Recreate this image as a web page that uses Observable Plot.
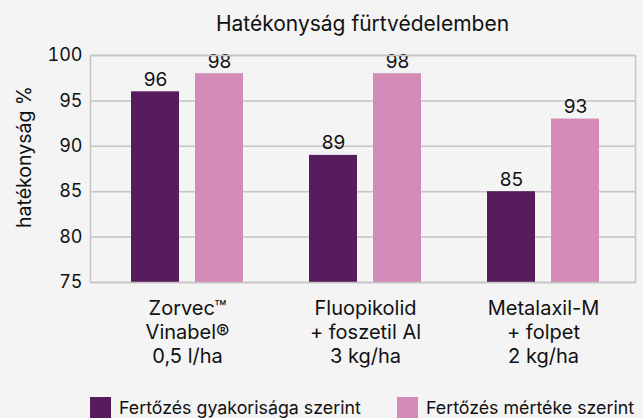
<!DOCTYPE html>
<html>
<head>
<meta charset="utf-8">
<script src="https://cdn.jsdelivr.net/npm/d3@7"></script>
<script src="https://cdn.jsdelivr.net/npm/@observablehq/plot@0.6"></script>
<style>
  html, body { margin: 0; padding: 0; background: #f4f4f4; }
  body { width: 643px; height: 418px; overflow: hidden; position: relative; font-family: Inter, Lato, sans-serif; color: #111; }
  #title { position: absolute; left: 90px; width: 545px; top: 0; height: 42px; text-align: center; font-size: 21px; line-height: 1; }
  #title span { position: absolute; left: 0; right: 0; top: 13px; }
  #chart { position: absolute; left: 0; top: 42px; }
  .leg { position: absolute; top: 397px; height: 21px; display: flex; align-items: center; font-size: 17.8px; }
  .sw { width: 21px; height: 21px; margin-right: 8px; }
</style>
</head>
<body>
<div id="title"><span>Hatékonyság fürtvédelemben</span></div>
<div id="chart"></div>
<div class="leg" id="leg1" style="left:90px"><div class="sw" id="sw1"></div><span id="lt1"></span></div>
<div class="leg" id="leg2" style="left:397px"><div class="sw" id="sw2"></div><span id="lt2"></span></div>
<script>
const categories = ["Zorvec™\nVinabel®\n0,5 l/ha", "Fluopikolid\n+ foszetil Al\n3 kg/ha", "Metalaxil-M\n+ folpet\n2 kg/ha"];
const seriesNames = ["Fertőzés gyakorisága szerint", "Fertőzés mértéke szerint"];
const gyakorisag = [96, 89, 85];
const mertek = [98, 98, 93];
const yTicks = [75, 80, 85, 90, 95, 100];
const colors = ["#561c5b", "#d48bb8"];

const rows1 = categories.map((c, i) => ({cat: c, v: gyakorisag[i]}));
const rows2 = categories.map((c, i) => ({cat: c, v: mertek[i]}));
const font = "Inter, Lato, sans-serif";

const chart = Plot.plot({
  width: 643,
  height: 345,
  marginTop: 13,
  marginLeft: 90,
  marginRight: 8,
  marginBottom: 105,
  style: {background: "transparent", fontFamily: font, color: "#111"},
  x: {type: "band", domain: categories, paddingInner: 0.3725, paddingOuter: 0.2129, align: 0.53},
  y: {domain: [75, 100]},
  marks: [
    Plot.ruleY(yTicks, {stroke: "#c4c4c4", strokeWidth: 1.5}),
    Plot.barY(rows1, {x: "cat", y1: () => 75, y2: "v", fill: colors[0], insetRight: 64}),
    Plot.barY(rows2, {x: "cat", y1: () => 75, y2: "v", fill: colors[1], insetLeft: 64}),
    Plot.text(rows1, {x: "cat", y: "v", text: d => String(d.v), dx: -32, dy: -6, lineAnchor: "bottom", fontSize: 19, fill: "#111"}),
    Plot.text(rows2, {x: "cat", y: "v", text: d => String(d.v), dx: 32, dy: -6, lineAnchor: "bottom", fontSize: 19, fill: "#111"}),
    Plot.frame({stroke: "#c4c4c4", strokeWidth: 1.5}),
    Plot.axisY({ticks: yTicks, tickSize: 0, tickPadding: 8, fontSize: 18, label: null, color: "#111"}),
    Plot.axisX({tickSize: 0, tickPadding: 15, fontSize: 20, lineHeight: 1.2, label: null, tickFormat: d => d, color: "#111"}),
    Plot.text(["hatékonyság %"], {frameAnchor: "left", textAnchor: "middle", rotate: -90, dx: -66, dy: -12, fontSize: 19.5, fill: "#111", text: d => d})
  ]
});
document.getElementById("chart").appendChild(chart);
document.getElementById("sw1").style.background = colors[0];
document.getElementById("sw2").style.background = colors[1];
document.getElementById("lt1").textContent = seriesNames[0];
document.getElementById("lt2").textContent = seriesNames[1];
</script>
</body>
</html>
